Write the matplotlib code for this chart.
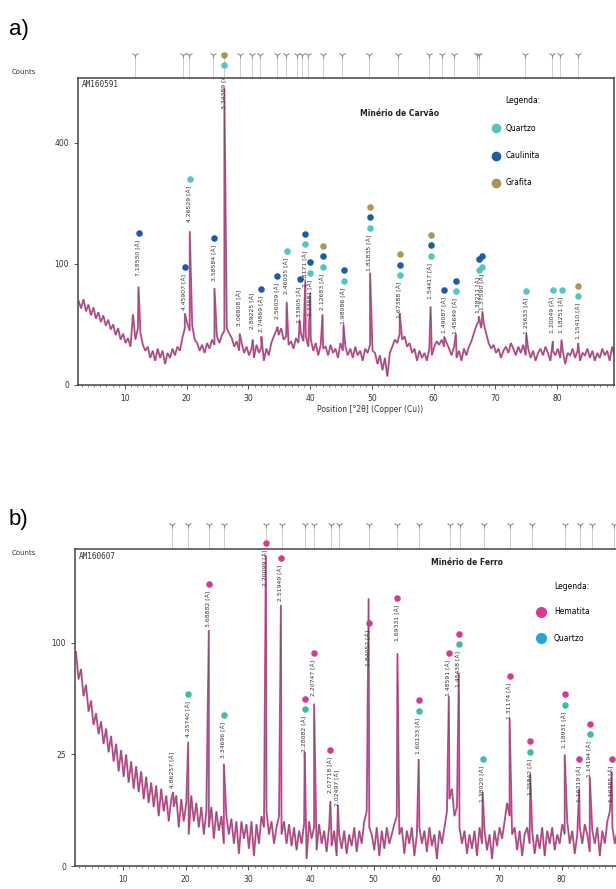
import numpy as np
import matplotlib.pyplot as plt
from matplotlib.transforms import offset_copy

# ---- a) Minerio de Carvao (AM160591) ----
# scan background, one value every 0.4 deg starting at 2.5 deg (counts)
a_bg = [48, 40, 50, 37, 44, 33, 41, 30, 36, 27,
        33, 24, 29, 21, 25, 17, 22, 14, 18, 12,
        15, 10, 34, 14, 22, 19, 11, 8, 10, 5,
        8, 4, 9, 5, 8, 3, 7, 5, 9, 6,
        10, 8, 15, 22, 26, 20, 24, 14, 12, 8,
        11, 7, 12, 9, 14, 11, 16, 12, 17, 20,
        22, 18, 15, 10, 13, 8, 12, 7, 10, 6,
        9, 5, 11, 7, 10, 4, 9, 6, 12, 16,
        20, 17, 22, 14, 16, 11, 13, 9, 15, 12,
        18, 13, 16, 10, 14, 8, 12, 6, 11, 9,
        10, 6, 11, 7, 9, 5, 12, 8, 10, 6,
        9, 5, 10, 6, 8, 4, 9, 7, 11, 8,
        7, 3, 6, 1.5, 5, 0.5, 7, 10, 14, 12,
        18, 14, 16, 10, 12, 7, 9, 4, 8, 5,
        7, 4, 9, 6, 10, 13, 11, 14, 10, 12,
        9, 6, 10, 5, 8, 4, 9, 6, 10, 13,
        18, 24, 28, 22, 26, 18, 12, 9, 11, 7,
        9, 5, 8, 10, 7, 12, 9, 6, 10, 7,
        11, 6, 9, 5, 8, 4, 7, 9, 6, 10,
        7, 4, 8, 6, 9, 5, 8, 3, 7, 6,
        9, 5, 8, 4, 7, 6, 9, 5, 8, 4,
        7, 5, 9, 6, 8, 4, 10, 6, 8]
a_pos = [12.2, 19.7, 20.5, 24.5, 26.1, 28.6, 30.7, 32.1, 34.7, 36.2, 38.3, 39.2, 40.0,
         42.0, 45.4, 49.7, 54.5, 59.5, 61.7, 63.6, 67.3, 67.9, 75.0, 79.3, 80.7, 83.4]
a_hgt = [66, 35, 161, 64, 600, 18, 14, 16, 23, 47, 29, 73, 58,
         34, 25, 86, 35, 42, 16, 18, 32, 37, 18, 13, 14, 12]
a_int = [80, 38, 179, 73, 518, 23, 21, 18.5, 29, 55, 26, 64, 32,
         38, 25, 88, 30, 50, 18, 17, 35, 38, 17, 18, 18, 14]
a_lab = ["7.18530 [Å]", "4.45907 [Å]", "4.26529 [Å]", "3.58584 [Å]", "3.34389 [Å]",
         "3.06808 [Å]", "2.89225 [Å]", "2.74869 [Å]", "2.56039 [Å]", "2.46035 [Å]",
         "2.33905 [Å]", "2.28171 [Å]", "2.23681 [Å]", "2.12683 [Å]", "1.98086 [Å]",
         "1.81835 [Å]", "1.67388 [Å]", "1.54417 [Å]", "1.49087 [Å]", "1.45649 [Å]",
         "1.38211 [Å]", "1.37590 [Å]", "1.25633 [Å]", "1.20049 [Å]", "1.18251 [Å]",
         "1.15410 [Å]"]
a_fase = ["C", "C", "Q", "C", "QG", "", "", "C", "C", "Q", "C", "QC", "QC",
          "QCG", "QC", "QCG", "QCG", "QCG", "C", "QC", "QC", "QC", "Q", "Q", "Q", "QG"]
a_sticks = [11.7, 19.4, 20.4, 24.3, 26.1, 28.6, 30.5, 31.9, 34.6, 36.1, 37.9, 38.7, 39.7,
            42.0, 45.2, 49.6, 54.3, 59.2, 61.4, 63.3, 67.0, 67.4, 74.8, 79.1, 80.4, 83.3]

# ---- b) Minerio de Ferro (AM160607) ----
b_bg = [92, 70, 78, 58, 66, 48, 55, 40, 47, 35,
        42, 30, 38, 26, 34, 22, 30, 18, 27, 16,
        25, 14, 22, 12, 20, 11, 18, 9, 16, 8,
        14, 7, 13, 5, 12, 6, 10, 4, 9, 7,
        10, 3, 9, 4, 8, 2, 10, 4, 8, 3,
        7, 2, 6, 3, 7, 1.5, 6, 2.5, 5, 1,
        5, 2, 4.5, 1, 4, 0.3, 4, 1.5, 3.5, 0.6,
        4, 0.2, 3.5, 1, 5, 3, 6, 2, 4, 1,
        3, 5, 2, 4, 1, 3.5, 0.8, 3, 0.5, 2.5,
        1, 3.5, 0.1, 4, 1.5, 3, 0.5, 3.5, 1, 2.5,
        0.4, 3, 0.8, 2.5, 0.2, 2, 0.6, 2.5, 0.3, 2,
        0.8, 3, 0.4, 2.5, 1, 4, 6, 3, 2, 0.5,
        3, 0.2, 2.5, 0.6, 3, 1, 2, 3.5, 5, 2,
        3, 0.3, 2.5, 1, 3, 0.2, 2, 3, 1, 2.5,
        0.4, 3, 0.8, 2, 0.1, 2.5, 1, 3, 6, 9,
        12, 5, 7, 3, 1, 2.5, 0.3, 2, 0.6, 2.5,
        0.2, 3, 1, 2.5, 0.5, 2, 0.1, 2.5, 0.8, 3,
        1.5, 4, 8, 5, 2, 3, 0.5, 2.5, 0.2, 2,
        3, 1, 2.5, 0.3, 2, 0.6, 3, 0.2, 2.5, 1,
        3, 0.5, 2, 1, 3.5, 2, 4, 1, 2.5, 0.3,
        2, 3, 1, 3.5, 2, 0.4, 2.5, 1, 3, 0.2,
        2.5, 1, 4, 6, 3, 1, 2.5, 0.5, 2]
b_pos = [18.0, 20.4, 23.7, 26.1, 32.8, 35.2, 39.0, 40.5, 43.1, 44.3, 49.2,
         53.8, 57.2, 62.0, 63.6, 67.4, 71.7, 75.0, 80.5, 82.8, 84.5, 88.0]
b_hgt = [11, 31, 112, 21, 194, 137, 26, 53, 8.5, 7.5, 144,
         91, 23, 58, 75, 11, 44, 17, 25, 12, 16, 18]
b_int = [12, 33, 114, 23, 157, 140, 25.7, 57.6, 10.6, 7.1, 80,
         101, 25, 57.6, 63.7, 8, 43, 10, 27.8, 8, 15.5, 8]
b_lab = ["4.86257 [Å]", "4.25740 [Å]", "3.68882 [Å]", "3.34696 [Å]", "2.70099 [Å]",
         "2.51949 [Å]", "2.28082 [Å]", "2.20747 [Å]", "2.07718 [Å]", "2.02497 [Å]",
         "1.84052 [Å]", "1.69331 [Å]", "1.60133 [Å]", "1.48591 [Å]", "1.45438 [Å]",
         "1.38020 [Å]", "1.31174 [Å]", "1.25842 [Å]", "1.18931 [Å]", "1.16319 [Å]",
         "1.14194 [Å]", "1.10385 [Å]"]
b_fase = ["", "Q", "H", "Q", "H", "H", "QH", "H", "H", "", "H",
          "H", "QH", "H", "QH", "Q", "H", "QH", "QH", "H", "QH", "H"]
b_sticks = [17.8, 20.4, 23.8, 26.1, 32.8, 35.4, 39.0, 40.5, 43.2, 44.4, 49.2,
            53.7, 57.3, 62.2, 63.8, 67.6, 71.7, 75.3, 80.6, 82.9, 84.8, 88.4]

cores_a = {"Q": "#55c6bf", "C": "#1e5ba6", "G": "#a99859"}
cores_b = {"Q": "#45b9a6", "H": "#d23c8f"}

plt.rcParams['font.family'] = ['DejaVu Sans']
fig = plt.figure(figsize=(6.16, 8.89), dpi=100)


def painel(rect, bg, pos, hgt, inten, lab, fase, sticks, cores, xlim, ymax, yticks, amostra):
    ax = fig.add_axes(rect)
    ax.set_yscale('function', functions=(lambda v: np.sqrt(np.maximum(v, 0)), np.square))
    xg = 2.5 + 0.4 * np.arange(len(bg))
    xs = np.concatenate([xg, pos])
    ys = np.concatenate([bg, hgt])
    o = np.argsort(xs, kind='stable')
    ax.plot(xs[o], ys[o], color='#cc5a9c', lw=1.4, solid_joinstyle='miter')
    ax.plot(xs[o], ys[o], color='#4a4a4a', lw=0.35, alpha=0.75)
    ax.set_xlim(*xlim)
    ax.set_ylim(0, ymax)
    ax.set_yticks(yticks)
    ax.set_xticks(range(10, 90, 10))
    ax.set_xticks(range(3, 90), minor=True)
    ax.tick_params(labelsize=5.5, colors='#333333', length=3, width=0.6)
    ax.tick_params(which='minor', length=1.5, width=0.5, colors='#555555')
    for s in ax.spines.values():
        s.set_color('#444444')
        s.set_linewidth(1.1)
    # reference sticks above the plot
    tr = ax.get_xaxis_transform()
    ax.vlines(sticks, 1.0, 1.07, transform=tr, colors='#bbbbbb', lw=0.5, clip_on=False)
    ax.plot(sticks, np.full(len(sticks), 1.075), ls='none', marker='1', ms=5, mew=0.8,
            color='#8c8c8c', transform=tr, clip_on=False)
    # d-spacing labels and phase dots
    for p, h, s, f in zip(pos, inten, lab, fase):
        t = ax.text(p, h, s, rotation=90, ha='center', va='bottom', fontsize=4.4,
                    color='#333333', clip_on=True,
                    transform=offset_copy(ax.transData, fig=fig, y=0.5, units='points'))
        t.set_clip_box(ax.bbox)
        for j, c in enumerate(f):
            ax.plot([p], [h], 'o', ms=3.7, color=cores[c], clip_on=False,
                    transform=offset_copy(ax.transData, fig=fig, y=31.5 + 7.4 * j, units='points'))
    ax.text(0.008, 0.992, amostra, transform=ax.transAxes, fontsize=5.5, va='top',
            family='DejaVu Sans Mono', color='#333333')
    return ax


ax1 = painel([78 / 616, 1 - 385 / 889, 536 / 616, 307 / 889], a_bg, a_pos, a_hgt, a_int,
             a_lab, a_fase, a_sticks, cores_a, (2.4, 89.2), 642, [0, 100, 400], "AM160591")
ax1.text(0.60, 0.876, "Minério de Carvão", transform=ax1.transAxes, fontsize=5.5,
         fontweight='bold', ha='center', color='#222222')
ax1.text(0.83, 0.928, "Legenda:", transform=ax1.transAxes, fontsize=5.5, ha='center', va='center')
for yy, nome, c in [(0.837, "Quartzo", "Q"), (0.746, "Caulinita", "C"), (0.658, "Grafita", "G")]:
    ax1.plot([0.78], [yy], 'o', ms=6, color=cores_a[c], transform=ax1.transAxes)
    ax1.text(0.797, yy, nome, transform=ax1.transAxes, fontsize=5.5, va='center')

ax2 = painel([75 / 616, 1 - 866 / 889, 543 / 616, 317 / 889], b_bg, b_pos, b_hgt, b_int,
             b_lab, b_fase, b_sticks, cores_b, (2.34, 88.9), 202, [0, 25, 100], "AM160607")
ax2.text(0.721, 0.95, "Minério de Ferro", transform=ax2.transAxes, fontsize=5.5,
         fontweight='bold', ha='center', color='#222222')
ax2.text(0.915, 0.881, "Legenda:", transform=ax2.transAxes, fontsize=5.5, ha='center', va='center')
for yy, nome, c in [(0.802, "Hematita", "#d23c8f"), (0.718, "Quartzo", "#23a6dc")]:
    ax2.plot([0.859], [yy], 'o', ms=7, color=c, transform=ax2.transAxes)
    ax2.text(0.882, yy, nome, transform=ax2.transAxes, fontsize=5.5, va='center')

fig.text(370 / 616, 1 - 410 / 889, "Position [°2θ] (Copper (Cu))", fontsize=5.5,
         ha='center', va='center', color='#333333')
fig.text(0.014, 0.967, "a)", fontsize=16, family='Liberation Sans', va='center')
fig.text(0.014, 0.416, "b)", fontsize=16, family='Liberation Sans', va='center')
fig.text(0.019, 0.919, "Counts", fontsize=5, color='#333333', va='center')
fig.text(0.019, 0.378, "Counts", fontsize=5, color='#333333', va='center')

fig.savefig("out.png", dpi=100)
